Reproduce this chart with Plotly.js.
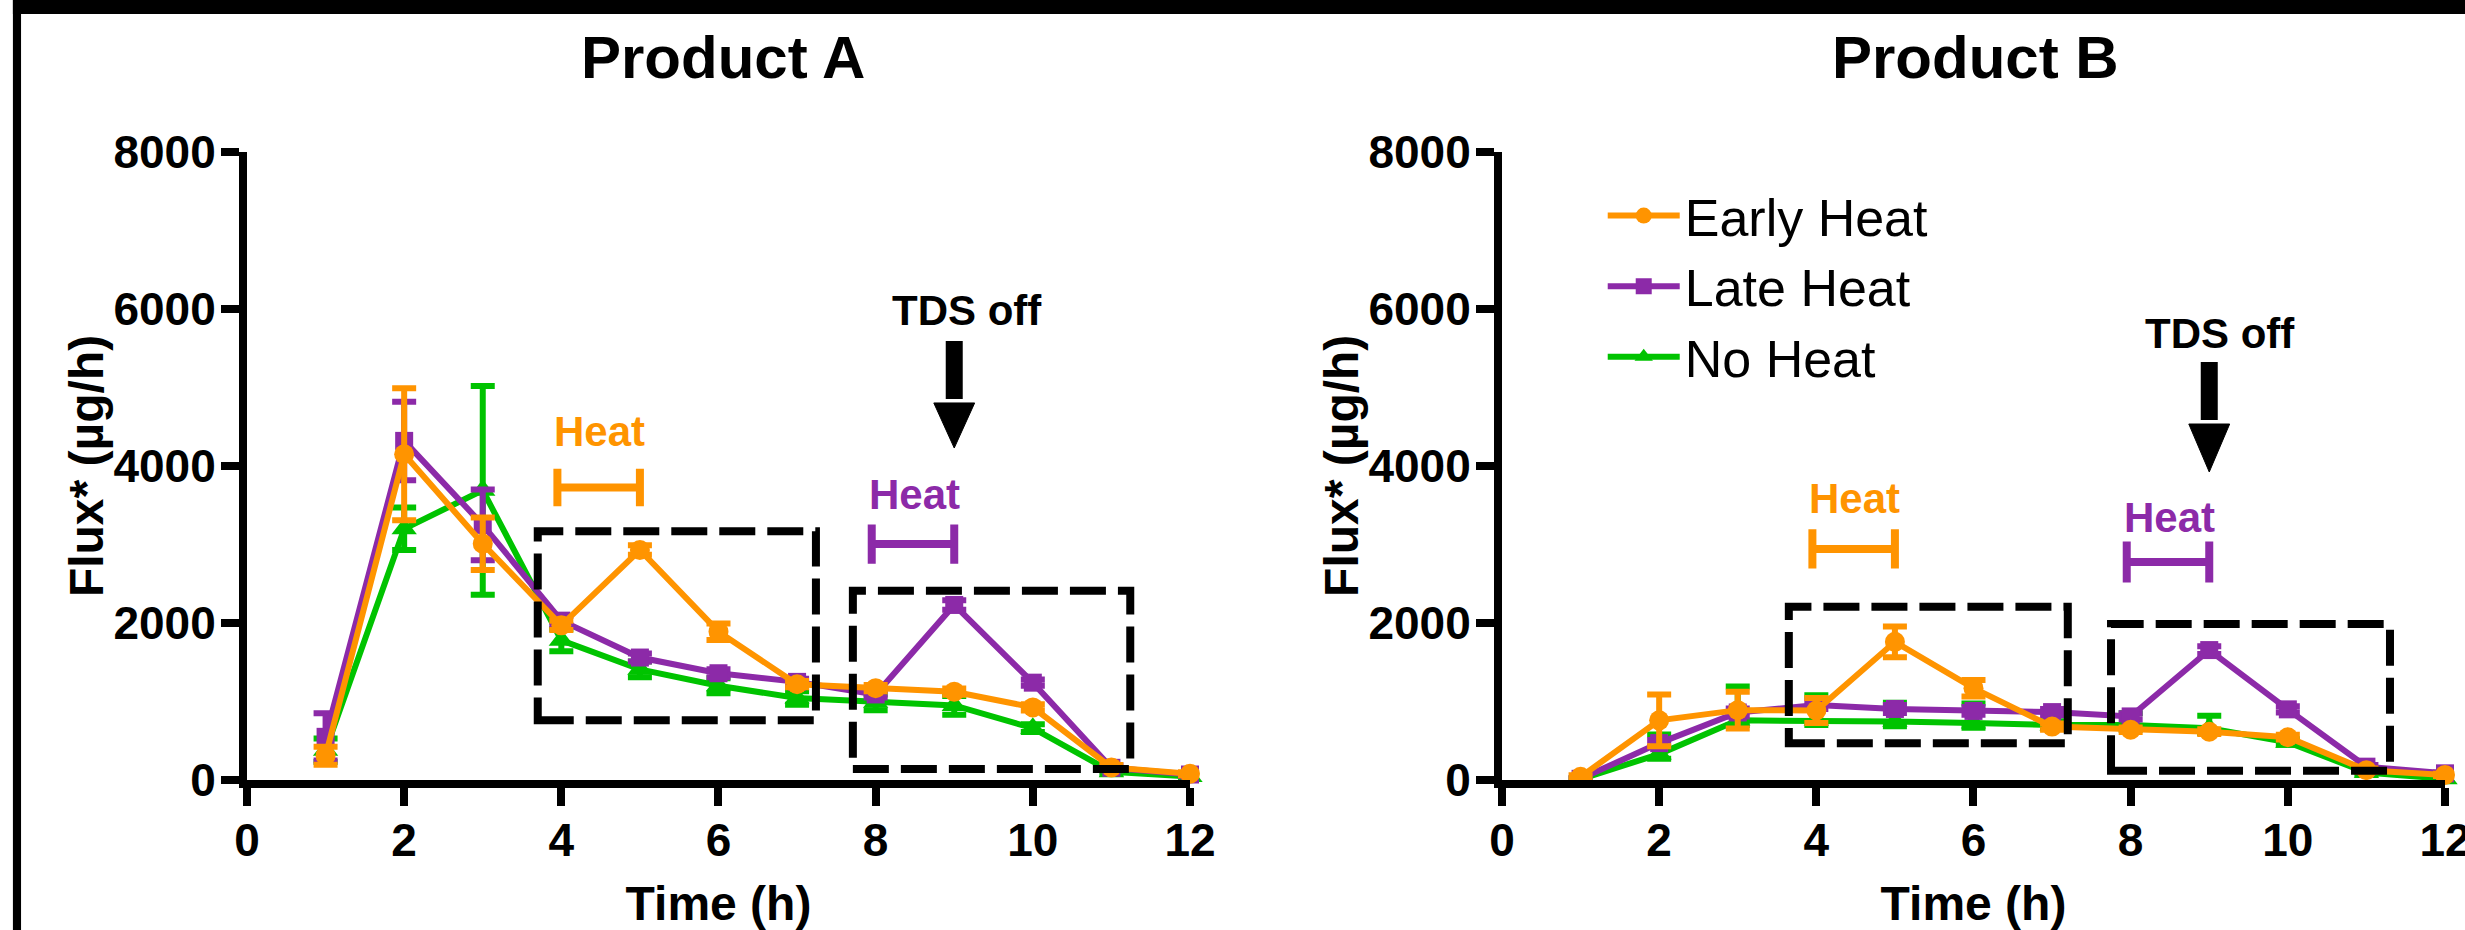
<!DOCTYPE html>
<html>
<head>
<meta charset="utf-8">
<script src="https://cdn.plot.ly/plotly-3.0.1.min.js"></script>
<style>html,body{margin:0;padding:0;background:#fff;}</style>
</head>
<body>
<div id="chart" style="width:2465px;height:930px;"></div>
<script>
// ---------- data ----------
const hours = [1, 2, 3, 4, 5, 6, 7, 8, 9, 10, 11, 12];
const xTickVals = [0, 2, 4, 6, 8, 10, 12];
const yTickVals = [0, 2000, 4000, 6000, 8000];
const seriesNames = ["Early Heat", "Late Heat", "No Heat"];
const panelTitles = ["Product A", "Product B"];
const xTitle = "Time (h)";
const yTitle = "Flux* (µg/h)";

// Product A
const aEarly    = [310, 4150, 3010, 1970, 2930, 1890, 1220, 1170, 1125, 925, 160, 80];
const aEarlyErr = [115, 840, 335, 60, 60, 105, 40, 40, 40, 40, 30, 20];
const aLate     = [550, 4320, 3250, 2030, 1560, 1360, 1250, 1090, 2230, 1240, 155, 70];
const aLateErr  = [300, 500, 450, 60, 50, 50, 40, 40, 60, 40, 30, 20];
const aNone     = [380, 3200, 3690, 1780, 1410, 1200, 1045, 990, 950, 660, 105, 45];
const aNoneErr  = [150, 270, 1330, 140, 100, 95, 85, 100, 120, 50, 30, 15];

// Product B
const bEarly    = [40, 760, 890, 885, 1760, 1170, 680, 640, 615, 545, 125, 65];
const bEarlyErr = [20, 330, 235, 160, 195, 105, 40, 30, 30, 30, 20, 15];
const bLate     = [15, 470, 860, 955, 905, 880, 865, 810, 1655, 900, 170, 85];
const bLateErr  = [10, 40, 50, 50, 50, 50, 40, 40, 50, 40, 20, 10];
const bNone     = [10, 330, 760, 760, 745, 725, 700, 700, 660, 480, 95, 15];
const bNoneErrUp   = [10, 250, 430, 320, 240, 250, 50, 150, 160, 40, 20, 10];
const bNoneErrDown = [10, 60, 60, 60, 60, 60, 40, 60, 60, 30, 20, 10];

// ---------- styles ----------
const ORANGE = "#FF9400", PURPLE = "#8C2AA8", GREEN = "#00C300";
const FONT = "Liberation Sans, Arial, Helvetica, sans-serif";

function series(name, y, errUp, errDown, color, symbol, size, xa, ya, showLegend, rank) {
  return {
    type: "scatter", mode: "lines+markers", name: name,
    x: hours, y: y, xaxis: xa, yaxis: ya,
    line: {color: color, width: 6},
    marker: {color: color, symbol: symbol, size: size, line: {width: 0}},
    error_y: {type: "data", symmetric: false, array: errUp, arrayminus: errDown, visible: true,
              color: color, thickness: 6, width: 12},
    cliponaxis: false,
    showlegend: showLegend, legendgroup: name, legendrank: rank
  };
}

const traces = [
  series(seriesNames[2], aNone, aNoneErr, aNoneErr, GREEN, "triangle-up", 22, "x", "y", false, 3),
  series(seriesNames[1], aLate, aLateErr, aLateErr, PURPLE, "square", 18, "x", "y", false, 2),
  series(seriesNames[0], aEarly, aEarlyErr, aEarlyErr, ORANGE, "circle", 20, "x", "y", false, 1),
  series(seriesNames[2], bNone, bNoneErrUp, bNoneErrDown, GREEN, "triangle-up", 22, "x2", "y2", true, 3),
  series(seriesNames[1], bLate, bLateErr, bLateErr, PURPLE, "square", 18, "x2", "y2", true, 2),
  series(seriesNames[0], bEarly, bEarlyErr, bEarlyErr, ORANGE, "circle", 20, "x2", "y2", true, 1)
];

function xAxis(domain, anchor) {
  return {
    domain: domain, anchor: anchor, range: [0, 12],
    tickmode: "array", tickvals: xTickVals,
    ticks: "outside", ticklen: 18, tickwidth: 8, tickcolor: "#000",
    showline: true, linewidth: 8, linecolor: "#000",
    showgrid: false, zeroline: false,
    ticklabeloverflow: "allow",
    ticklabelstandoff: -5,
    tickfont: {family: FONT, size: 46, weight: "bold", color: "#000"},
    title: {text: xTitle, standoff: 40, font: {family: FONT, size: 48, weight: "bold", color: "#000"}}
  };
}
function yAxis(anchor) {
  return {
    domain: [0, 1], anchor: anchor, range: [0, 8000],
    tickmode: "array", tickvals: yTickVals,
    ticks: "outside", ticklen: 18, tickwidth: 8, tickcolor: "#000",
    showline: true, linewidth: 8, linecolor: "#000",
    showgrid: false, zeroline: false,
    ticklabeloverflow: "allow",
    ticklabelstandoff: -4,
    tickfont: {family: FONT, size: 46, weight: "bold", color: "#000"}
  };
}

const dash = "36px,12px";
function box(xr, yr, x0, x1, y0, y1) {
  return {type: "rect", xref: xr, yref: yr, x0: x0, x1: x1, y0: y0, y1: y1,
          line: {color: "#000", width: 8, dash: dash}, fillcolor: "rgba(0,0,0,0)", layer: "above"};
}
function bracket(xr, yr, x0, x1, y, h, color) {
  return {type: "path", xref: xr, yref: yr,
          path: `M ${x0},${y - h} L ${x0},${y + h} M ${x0},${y} L ${x1},${y} M ${x1},${y - h} L ${x1},${y + h}`,
          line: {color: color, width: 8}, layer: "above"};
}
function arrowShapes(xr, yr, x, yTop, yHead, yTip) {
  return [
    {type: "line", xref: xr, yref: yr, x0: x, x1: x, y0: yTop, y1: yHead + 50,
     line: {color: "#000", width: 17}, layer: "above"},
    {type: "path", xref: xr, yref: yr,
     path: `M ${x - 0.26},${yHead} L ${x + 0.26},${yHead} L ${x},${yTip} Z`,
     fillcolor: "#000", line: {color: "#000", width: 1}, layer: "above"}
  ];
}

const shapes = [
  // frame bands
  {type: "rect", xref: "paper", yref: "paper", x0: -0.1065, x1: 1.01, y0: 1.2197, y1: 1.25,
   fillcolor: "#000", line: {width: 0}},
  {type: "rect", xref: "paper", yref: "paper", x0: -0.1065, x1: -0.1028, y0: -0.25, y1: 1.25,
   fillcolor: "#000", line: {width: 0}},
  // Product A
  box("x", "y", 3.70, 7.24, 760, 3170),
  box("x", "y", 7.71, 11.24, 140, 2411),
  bracket("x", "y", 3.95, 5.0, 3726, 240, ORANGE),
  bracket("x", "y", 7.95, 9.0, 3006, 250, PURPLE),
  ...arrowShapes("x", "y", 9, 5592, 4803, 4229),
  // Product B
  box("x2", "y2", 3.65, 7.20, 467, 2208),
  box("x2", "y2", 7.75, 11.30, 118, 1987),
  bracket("x2", "y2", 3.95, 5.0, 2943, 250, ORANGE),
  bracket("x2", "y2", 7.95, 9.0, 2777, 260, PURPLE),
  ...arrowShapes("x2", "y2", 9, 5325, 4535, 3924)
];

function label(xr, yr, x, y, text, color, size) {
  return {xref: xr, yref: yr, x: x, y: y, text: text, showarrow: false,
          xanchor: "center", yanchor: "middle",
          font: {family: FONT, size: size, weight: "bold", color: color}};
}
function yTitleAnn(xp) {
  return {xref: "paper", yref: "paper", x: xp, y: 0.5, text: yTitle, showarrow: false,
          textangle: -90, xanchor: "center", yanchor: "middle",
          font: {family: FONT, size: 48, weight: "bold", color: "#000"}};
}

const annotations = [
  {xref: "paper", yref: "paper", x: 0.2166, y: 1.1497, text: panelTitles[0], showarrow: false,
   xanchor: "center", yanchor: "middle", font: {family: FONT, size: 60, weight: "bold", color: "#000"}},
  {xref: "paper", yref: "paper", x: 0.7866, y: 1.1497, text: panelTitles[1], showarrow: false,
   xanchor: "center", yanchor: "middle", font: {family: FONT, size: 60, weight: "bold", color: "#000"}},
  yTitleAnn(-0.0732),
  yTitleAnn(0.4977),
  label("x", "y", 4.49, 4440, "Heat", ORANGE, 42),
  label("x", "y", 8.50, 3640, "Heat", PURPLE, 42),
  label("x", "y", 9.16, 5980, "TDS off", "#000", 42),
  label("x2", "y2", 4.48, 3590, "Heat", ORANGE, 42),
  label("x2", "y2", 8.49, 3345, "Heat", PURPLE, 42),
  label("x2", "y2", 9.14, 5690, "TDS off", "#000", 42)
];

const layout = {
  width: 2465, height: 930,
  margin: {l: 247, r: 20, t: 152, b: 150},
  paper_bgcolor: "#fff", plot_bgcolor: "#fff",
  xaxis: xAxis([0, 0.42902], "y"),
  yaxis: yAxis("x"),
  xaxis2: xAxis([0.57097, 1], "y2"),
  yaxis2: yAxis("x2"),
  showlegend: true,
  legend: {x: 0.6168, y: 0.963, xanchor: "left", yanchor: "top", itemwidth: 72,
           bgcolor: "rgba(0,0,0,0)", borderwidth: 0, tracegroupgap: 0,
           font: {family: FONT, size: 52, color: "#000"}},
  shapes: shapes,
  annotations: annotations
};

Plotly.newPlot("chart", traces, layout, {displayModeBar: false, staticPlot: true});
</script>
</body>
</html>
